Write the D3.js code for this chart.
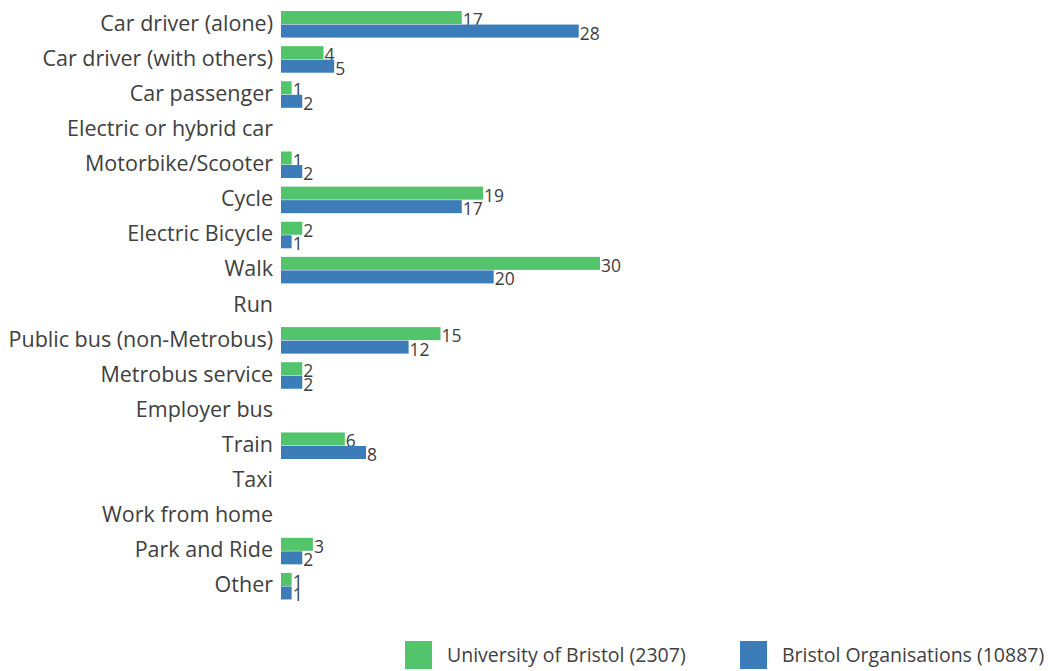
<!DOCTYPE html>
<html>
<head>
<meta charset="utf-8">
<script src="https://cdn.jsdelivr.net/npm/d3@7/dist/d3.min.js"></script>
<style>
  body { margin: 0; background: #fff; }
  text { font-family: "Open Sans", sans-serif; fill: #404040; }
</style>
</head>
<body>
<svg width="1048" height="671"></svg>
<script>
// chart data
var categories = ["Car driver (alone)", "Car driver (with others)", "Car passenger",
  "Electric or hybrid car", "Motorbike/Scooter", "Cycle", "Electric Bicycle", "Walk",
  "Run", "Public bus (non-Metrobus)", "Metrobus service", "Employer bus", "Train",
  "Taxi", "Work from home", "Park and Ride", "Other"];

var seriesNames = ["University of Bristol (2307)", "Bristol Organisations (10887)"];

var uobValues = [17, 4, 1, null, 1, 19, 2, 30, null, 15, 2, null, 6, null, null, 3, 1];
var bristolValues = [28, 5, 2, null, 2, 17, 1, 20, null, 12, 2, null, 8, null, null, 2, 1];

var colours = ["#52c46c", "#3b7cb9"];

var svg = d3.select("svg");

// scales
var x = d3.scaleLinear().domain([0, 30]).range([281, 600]);

var y = d3.scaleBand()
    .domain(categories)
    .range([7, 604])
    .paddingInner(0.23)
    .paddingOuter(0.115);

var ySub = d3.scaleBand()
    .domain([0, 1])
    .range([0, y.bandwidth()]);

var rows = categories.map(function(c, i) {
  return { cat: c, vals: [uobValues[i], bristolValues[i]] };
});

// category labels
svg.append("g")
  .selectAll("text")
  .data(categories)
  .enter().append("text")
  .attr("x", 273)
  .attr("y", function(d) { return y(d) + y.bandwidth() / 2 - 1.5; })
  .attr("dy", "0.35em")
  .attr("text-anchor", "end")
  .style("font-size", "21.5px")
  .text(function(d) { return d; });

// bars + value labels
var row = svg.append("g")
  .selectAll("g")
  .data(rows)
  .enter().append("g")
  .attr("transform", function(d) { return "translate(0," + y(d.cat) + ")"; });

var cell = row.selectAll("g")
  .data(function(d) {
    return d.vals.map(function(v, k) { return { v: v, k: k }; })
      .filter(function(e) { return e.v != null; });
  })
  .enter().append("g");

cell.append("rect")
  .attr("x", x(0))
  .attr("y", function(d) { return ySub(d.k); })
  .attr("width", function(d) { return x(d.v) - x(0); })
  .attr("height", ySub.bandwidth() - 0.5)
  .attr("fill", function(d) { return colours[d.k]; });

cell.append("text")
  .attr("x", function(d) { return x(d.v) + 1; })
  .attr("y", function(d) { return ySub(d.k) + ySub.bandwidth() + 1.5; })
  .style("font-size", "17.5px")
  .text(function(d) { return d.v; });

// legend
var legendX = [405, 740];
var legend = svg.append("g")
  .selectAll("g")
  .data(seriesNames)
  .enter().append("g")
  .attr("transform", function(d, i) { return "translate(" + legendX[i] + ",641)"; });

legend.append("rect")
  .attr("width", 27)
  .attr("height", 28)
  .attr("fill", function(d, i) { return colours[i]; });

legend.append("text")
  .attr("x", 42)
  .attr("y", 21)
  .style("font-size", "19.5px")
  .text(function(d) { return d; });
</script>
</body>
</html>
